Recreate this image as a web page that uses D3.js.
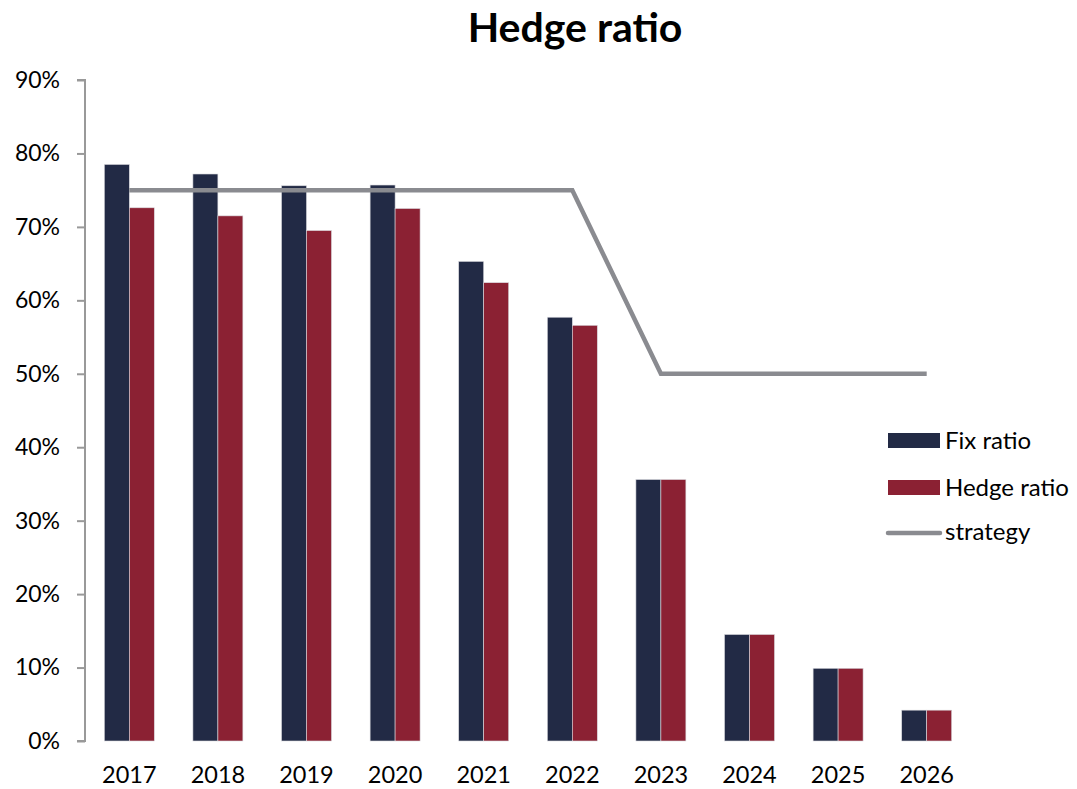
<!DOCTYPE html>
<html>
<head>
<meta charset="utf-8">
<script src="https://cdn.jsdelivr.net/npm/d3@7"></script>
<style>
  body { margin: 0; background: #fff; }
  text { font-family: Lato, "Open Sans", sans-serif; fill: #000; }
</style>
</head>
<body>
<div class="chart"></div>
<script>
var years = ["2017", "2018", "2019", "2020", "2021", "2022", "2023", "2024", "2025", "2026"];
var fixRatio = [0.785, 0.772, 0.756, 0.757, 0.653, 0.577, 0.356, 0.145, 0.099, 0.042];
var hedgeRatio = [0.726, 0.715, 0.695, 0.725, 0.624, 0.566, 0.356, 0.145, 0.099, 0.042];
var strategy = [0.75, 0.75, 0.75, 0.75, 0.75, 0.75, 0.50, 0.50, 0.50, 0.50];
var seriesNames = ["Fix ratio", "Hedge ratio"];
var colors = ["#222a45", "#8b2133"];
var yTicks = [0, 0.1, 0.2, 0.3, 0.4, 0.5, 0.6, 0.7, 0.8, 0.9];

var svg = d3.select(".chart").append("svg")
    .attr("width", 1077)
    .attr("height", 789);

var x = d3.scaleBand()
    .domain(years)
    .range([85, 971])
    .paddingInner(0.436)
    .paddingOuter(0.218);

var x1 = d3.scaleBand()
    .domain(seriesNames)
    .range([0, x.bandwidth()]);

var y = d3.scaleLinear()
    .domain([0, 0.9])
    .range([741, 80]);

svg.append("text")
    .attr("x", 575)
    .attr("y", 42)
    .attr("text-anchor", "middle")
    .style("font-size", "41px")
    .style("font-weight", "bold")
    .text("Hedge ratio");

// y axis
var yAxis = svg.append("g")
    .attr("transform", "translate(85,0)")
    .call(d3.axisLeft(y).tickValues(yTicks).tickFormat(d3.format(".0%")).tickSize(8).tickPadding(17));
yAxis.select(".domain").attr("stroke", "#999").attr("stroke-width", 2).attr("d", "M-8," + y(0.9) + "H0V" + y(0) + "H-8");
yAxis.selectAll(".tick line").attr("stroke", "#999").attr("stroke-width", 2);
yAxis.selectAll(".tick text").style("font-size", "23px").style("font-family", "Lato, 'Open Sans', sans-serif");

// x labels
svg.append("g").selectAll("text")
    .data(years)
  .enter().append("text")
    .attr("x", function(d) { return x(d) + x.bandwidth() / 2; })
    .attr("y", 783)
    .attr("text-anchor", "middle")
    .style("font-size", "23.5px")
    .text(function(d) { return d; });

// bars
var series = [fixRatio, hedgeRatio];
series.forEach(function(vals, s) {
  svg.append("g").selectAll("rect")
      .data(vals)
    .enter().append("rect")
      .attr("x", function(d, i) { return x(years[i]) + x1(seriesNames[s]); })
      .attr("y", function(d) { return y(d); })
      .attr("width", x1.bandwidth())
      .attr("height", function(d) { return y(0) - y(d); })
      .style("fill", colors[s])
      .style("stroke", "#d9d9de")
      .style("stroke-width", 0.6);
});

// strategy line
var line = d3.line()
    .x(function(d, i) { return x(years[i]) + x.bandwidth() / 2; })
    .y(function(d) { return y(d); });

svg.append("path")
    .datum(strategy)
    .attr("d", line)
    .style("fill", "none")
    .style("stroke", "#8a8b90")
    .style("stroke-width", 4.5)
    .style("stroke-linejoin", "miter");

// legend
var legend = svg.append("g");
seriesNames.forEach(function(name, s) {
  var ly = 433 + s * 47;
  legend.append("rect")
      .attr("x", 888)
      .attr("y", ly)
      .attr("width", 52)
      .attr("height", 15)
      .style("fill", colors[s]);
  legend.append("text")
      .attr("x", 945)
      .attr("y", ly + 16)
      .style("font-size", "24px")
      .text(name);
});
legend.append("line")
    .attr("x1", 888)
    .attr("x2", 940)
    .attr("y1", 533)
    .attr("y2", 533)
    .style("stroke", "#8a8b90")
    .style("stroke-width", 4.5)
    .style("stroke-linecap", "round");
legend.append("text")
    .attr("x", 945)
    .attr("y", 540)
    .style("font-size", "24px")
    .text("strategy");
</script>
</body>
</html>
